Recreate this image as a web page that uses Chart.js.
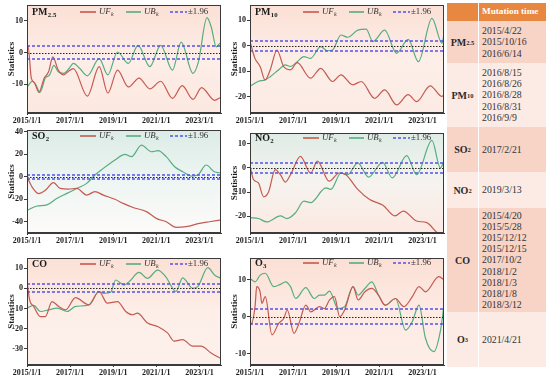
<!DOCTYPE html>
<html>
<head>
<meta charset="utf-8">
<script src="https://cdn.jsdelivr.net/npm/chart.js@4.4.1/dist/chart.umd.min.js"></script>
<style>
  body { margin: 0; background: #fff; width: 550px; height: 378px; position: relative; overflow: hidden;
         font-family: "Liberation Serif", "Times New Roman", serif; }
  canvas.panel { position: absolute; }
  .trow { position: absolute; left: 447px; width: 99px; display: flex; }
  .trow .c1 { width: 31px; display: flex; align-items: center; justify-content: center;
              font-weight: bold; font-size: 10px; color: #2a2a2a; border-right: 1px solid #fff; }
  .trow .c2 { flex: 1; display: flex; flex-direction: column; justify-content: center;
              padding-left: 3px; font-size: 9.8px; line-height: 11.2px; color: #333; }
  .trow sub { font-size: 6.5px; vertical-align: -2px; }
  .thead .c2 { color: #fff; font-weight: bold; font-size: 9.2px; }
</style>
</head>
<body>
<script>
// ---- data (years as decimals, statistic values) ----
const X_TICKS = [2015, 2017, 2019, 2021, 2023];

const PM25_UF_X = [2015.00, 2015.05, 2015.20, 2015.35, 2015.55, 2015.80, 2016.00, 2016.20, 2016.45, 2016.70, 2016.90, 2017.15, 2017.80, 2018.35, 2018.75, 2019.20, 2019.70, 2020.20, 2020.70, 2021.20, 2021.75, 2022.20, 2022.70, 2023.10, 2023.70, 2023.95];
const PM25_UF = [0.5, 2.0, -8, -9.5, -12.5, -8, -6, -1.3, -5.5, -7, -6, -5, -13.7, -4.4, -12.7, -5.5, -10.8, -8, -11.4, -9, -14.4, -10.4, -14.7, -11, -15, -14.2];
const PM25_UB_X = [2015.00, 2015.10, 2015.25, 2015.40, 2015.60, 2015.85, 2016.05, 2016.25, 2016.45, 2016.70, 2016.95, 2017.15, 2017.45, 2017.80, 2018.35, 2018.75, 2019.20, 2019.70, 2020.15, 2020.70, 2021.20, 2021.75, 2022.15, 2022.70, 2022.95, 2023.35, 2023.55, 2023.78, 2023.95];
const PM25_UB = [-11, -10, -9, -10, -12.5, -8, -7, -4, -6, -6.5, -5, -3.4, -5, -7.3, -1.9, -7, 0.2, -3.4, 2.3, -4.4, 2.3, -5.5, 3.3, -6.5, -3, 11, 8, 1.8, 3];

const PM10_UF_X = [2015.00, 2015.23, 2015.47, 2015.70, 2015.94, 2016.25, 2016.56, 2016.88, 2017.19, 2017.81, 2018.28, 2018.83, 2019.22, 2019.77, 2020.16, 2020.78, 2021.25, 2021.80, 2022.34, 2022.73, 2023.36, 2023.91, 2024.00];
const PM10_UF = [1.6, -5, -8.2, -13.5, -9.5, -1.7, -8.2, -9.5, -6.7, -12.8, -8.9, -14.1, -11.5, -15.4, -14.1, -20.7, -17.4, -23.3, -19.3, -22, -15.8, -20, -19];
const PM10_UB_X = [2015.00, 2015.39, 2015.70, 2015.94, 2016.33, 2016.64, 2016.88, 2017.19, 2017.50, 2017.81, 2018.28, 2018.59, 2018.83, 2019.22, 2019.53, 2020.00, 2020.39, 2020.70, 2021.25, 2021.80, 2022.34, 2022.81, 2023.44, 2023.91, 2024.00];
const PM10_UB = [-16, -14, -13.5, -12.2, -9.5, -7.6, -8.2, -6.3, -4.3, -5, -0.4, -2, -1.7, 4.2, 3.3, 6.1, 6.5, 1.6, 6.1, -3, 2.5, -6.3, 10.7, 0.9, 4.8];

const SO2_UF_X = [2015.00, 2015.23, 2015.54, 2015.85, 2016.23, 2016.54, 2016.92, 2017.31, 2017.77, 2018.15, 2018.54, 2019.08, 2019.46, 2019.92, 2020.54, 2021.00, 2021.46, 2021.92, 2022.38, 2023.00, 2023.46, 2023.95];
const SO2_UF = [0, -9, -15, -12, -5.3, -10.4, -11, -10.4, -16.3, -13.3, -16.3, -20, -23.7, -27.3, -31, -37, -40, -45, -44.4, -41.5, -40, -38.5];
const SO2_UB_X = [2015.00, 2015.46, 2015.92, 2016.38, 2016.85, 2017.31, 2017.77, 2018.15, 2018.54, 2019.08, 2019.54, 2019.85, 2020.31, 2020.77, 2021.08, 2021.46, 2021.85, 2022.23, 2022.62, 2022.92, 2023.31, 2023.69, 2023.95];
const SO2_UB = [-30, -26, -25, -19.3, -14.8, -10.4, -5.9, 1.5, 7.4, 14.8, 19.9, 17.8, 28.1, 22.2, 23.1, 17.8, 8.9, 4.4, 0.6, 1.5, 10.4, 4.4, 3.5];

const NO2_UF_X = [2015.00, 2015.16, 2015.39, 2015.63, 2015.86, 2016.17, 2016.41, 2016.64, 2016.88, 2017.34, 2017.81, 2018.13, 2018.67, 2019.14, 2019.45, 2020.00, 2020.55, 2021.17, 2021.72, 2022.11, 2022.73, 2023.20, 2023.83, 2024.00];
const NO2_UF = [0.7, -4.8, -6.2, -12, -10, -0.7, -2.8, -5.9, -2.8, 4.8, -2.1, 2.8, -5.5, -2.1, -2.8, -8.9, -13.1, -15.5, -19.9, -17.9, -22, -22.7, -27.5, -26.8];
const NO2_UB_X = [2015.00, 2015.39, 2015.78, 2016.41, 2016.72, 2017.11, 2017.50, 2017.81, 2018.52, 2018.75, 2019.22, 2019.53, 2020.00, 2020.50, 2021.15, 2021.60, 2022.27, 2022.73, 2023.44, 2023.83, 2024.00];
const NO2_UB = [-20.6, -21, -22.4, -19.9, -21, -18.6, -13.8, -14.4, -8.3, -8.9, -2.1, -2.8, 2.1, -3.8, 2.3, -4.1, 5.1, -2.8, 11.4, 0, 2.8];

const CO_UF_X = [2015.00, 2015.12, 2015.31, 2015.62, 2015.85, 2016.16, 2016.47, 2016.79, 2017.25, 2017.87, 2018.34, 2018.73, 2019.20, 2019.58, 2019.89, 2020.12, 2020.59, 2021.06, 2021.52, 2021.83, 2022.22, 2022.69, 2023.07, 2023.54, 2024.00];
const CO_UF = [3.3, -5.7, -9, -14, -14, -6.6, -9, -10.7, -4.6, -8.2, -1.6, -7.4, -6.6, -11.5, -13.1, -12.3, -17.2, -18.9, -22.1, -26.2, -25.4, -28.7, -28.7, -32, -34.9];
const CO_UB_X = [2015.00, 2015.31, 2015.62, 2016.01, 2016.40, 2016.86, 2017.25, 2017.87, 2018.34, 2018.57, 2018.88, 2019.11, 2019.50, 2019.74, 2020.20, 2020.59, 2021.06, 2021.44, 2021.91, 2022.22, 2022.69, 2022.92, 2023.39, 2023.70, 2024.00];
const CO_UB = [-9.8, -8.5, -11.5, -10.7, -9.8, -11.5, -9, -8.2, -1.6, -2.5, -2, 4.1, 1.6, 3.3, 7.9, 4.9, 9, 5.7, -1.6, 5.2, 0, 0.8, 10.2, 6.6, 4.9];

const O3_UF_X = [2015.00, 2015.05, 2015.24, 2015.31, 2015.47, 2015.55, 2015.71, 2016.02, 2016.33, 2016.57, 2016.73, 2017.04, 2017.27, 2017.59, 2017.82, 2018.22, 2018.45, 2018.69, 2018.92, 2019.16, 2019.39, 2019.78, 2020.02, 2020.33, 2020.65, 2020.96, 2021.27, 2021.75, 2022.14, 2022.53, 2022.84, 2023.14, 2023.76, 2024.00];
const O3_UF = [0, -2, 3.1, 8.1, 6.7, 3.6, 5.4, -4.9, -1.8, -0.4, 1.8, -4.5, -1.8, 3.1, 1.3, 2.7, 2.2, 4.5, 5.4, 0, 1.8, 8.1, 4.5, 6.7, 7.6, 5.8, 3.1, 4.9, 2.7, 5.4, 8.1, 6.7, 10.8, 9.9];
const O3_UB_X = [2015.00, 2015.24, 2015.47, 2015.71, 2016.10, 2016.41, 2016.65, 2016.88, 2017.12, 2017.59, 2017.98, 2018.22, 2018.45, 2018.69, 2019.08, 2019.39, 2019.78, 2020.02, 2020.33, 2020.65, 2020.96, 2021.27, 2021.75, 2022.22, 2022.53, 2022.84, 2023.14, 2023.53, 2023.84, 2024.00];
const O3_UB = [10.3, 9.4, 11.2, 11.7, 8.1, 8.7, 9.4, 8.1, 4.9, 7.8, 4.9, 5.8, 5.8, 6.9, 2.2, 2.7, 8.1, 5.8, 7.6, 9.4, 5.8, 3.1, 4.9, -3.6, -1.3, 3.1, -5.8, -9.4, -3.6, 3.1];

const THRESHOLD = 1.96;

// table text
const TABLE_HEAD = 'Mutation time';
const TABLE_NAMES = ['PM<sub>2.5</sub>', 'PM<sub>10</sub>', 'SO<sub>2</sub>', 'NO<sub>2</sub>', 'CO', 'O<sub>3</sub>'];
const TABLE_DATES = [
  ['2015/4/22', '2015/10/16', '2016/6/14'],
  ['2016/8/15', '2016/8/26', '2016/8/28', '2016/8/31', '2016/9/9'],
  ['2017/2/21'],
  ['2019/3/13'],
  ['2015/4/20', '2015/5/28', '2015/12/12', '2015/12/15', '2017/10/2', '2018/1/2', '2018/1/3', '2018/1/8', '2018/3/12'],
  ['2021/4/21']
];

// ---- styling ----
const UF_COLOR = '#c45a50';
const UB_COLOR = '#55ad80';
const REF_COLOR = '#5552e6';
const FONT = '"Liberation Serif", "Times New Roman", serif';

/* draw "main" with a subscript right after it */
function subText(ctx, x, y, main, sub, size, style) {
  ctx.font = style + ' ' + size + 'px ' + FONT;
  ctx.fillText(main, x, y);
  const w = ctx.measureText(main).width;
  if (!sub) return;
  ctx.font = style + ' ' + (size * 0.68) + 'px ' + FONT;
  ctx.fillText(sub, x + w + 0.3, y + size * 0.32);
}

function hLine(ctx, x0, x1, py) {
  ctx.beginPath(); ctx.moveTo(x0, py); ctx.lineTo(x1, py); ctx.stroke();
}

const panelDeco = {
  id: 'panelDeco',
  beforeDraw(chart, args, opts) {
    const { ctx, chartArea: a } = chart;
    const g = ctx.createLinearGradient(0, a.top, 0, a.bottom);
    opts.bg.forEach((c, i) => g.addColorStop(i / (opts.bg.length - 1), c));
    ctx.save();
    ctx.fillStyle = g;
    ctx.fillRect(a.left, a.top, a.width, a.height);
    ctx.restore();
  },
  afterDatasetsDraw(chart) {
    const { ctx, chartArea: a, scales: { y } } = chart;
    ctx.save();
    // zero line
    ctx.lineWidth = 1;
    ctx.strokeStyle = '#222';
    ctx.setLineDash([1.5, 1.5]);
    hLine(ctx, a.left, a.right, Math.round(y.getPixelForValue(0)) + 0.5);
    // +-1.96 lines
    ctx.lineWidth = 1.6;
    ctx.strokeStyle = REF_COLOR;
    ctx.setLineDash([3, 2]);
    hLine(ctx, a.left, a.right, Math.round(y.getPixelForValue(THRESHOLD)));
    hLine(ctx, a.left, a.right, Math.round(y.getPixelForValue(-THRESHOLD)));
    ctx.restore();
  },
  afterDraw(chart, args, opts) {
    const { ctx, chartArea: a } = chart;
    ctx.save();
    // frame
    ctx.strokeStyle = '#3a3a3a';
    ctx.lineWidth = 1;
    ctx.strokeRect(a.left + 0.5, a.top + 0.5, a.width - 1, a.height - 1);
    // panel label
    ctx.fillStyle = '#1a1a1a';
    ctx.textBaseline = 'middle';
    const ly = a.top + opts.ly;
    subText(ctx, a.left + 5, ly, opts.label, opts.sub, 10, 'bold');
    // legend
    const my = Math.round(ly);
    ctx.lineWidth = 1.6;
    ctx.strokeStyle = UF_COLOR;
    hLine(ctx, a.left + 53, a.left + 69, my);
    ctx.fillStyle = '#333';
    subText(ctx, a.left + 72, ly, 'UF', 'k', 8.8, 'italic');
    ctx.strokeStyle = UB_COLOR;
    hLine(ctx, a.left + 99, a.left + 114, my);
    subText(ctx, a.left + 117, ly, 'UB', 'k', 8.8, 'italic');
    ctx.strokeStyle = REF_COLOR;
    ctx.setLineDash([3, 2]);
    hLine(ctx, a.left + 143, a.left + 160, my);
    ctx.setLineDash([]);
    subText(ctx, a.left + 161, ly, '\u00b11.96', '', 8.8, 'normal');
    ctx.restore();
  }
};

function pts(xs, ys) {
  return xs.map((x, i) => ({ x: x, y: ys[i] }));
}

const PANELS = [
  { label: 'PM', sub: '2.5', ufx: PM25_UF_X, uf: PM25_UF, ubx: PM25_UB_X, ub: PM25_UB, yMin: -19, yMax: 15, yTicks: [-10, 0, 10],
    left: 0, top: -3, h: 128, padTop: 8, xh: 12, ly: 7, bg: ['#fbe0d5', '#fdeee8', '#fce8e0'] },
  { label: 'PM', sub: '10', ufx: PM10_UF_X, uf: PM10_UF, ubx: PM10_UB_X, ub: PM10_UB, yMin: -26.5, yMax: 16, yTicks: [-20, -10, 0, 10],
    left: 223, top: -3, h: 128, padTop: 8, xh: 12, ly: 7, bg: ['#fbe0d5', '#fdeee8', '#fcebe4'] },
  { label: 'SO', sub: '2', ufx: SO2_UF_X, uf: SO2_UF, ubx: SO2_UB_X, ub: SO2_UB, yMin: -50, yMax: 41.5, yTicks: [-40, -20, 0, 20, 40],
    left: 0, top: 122, h: 123, padTop: 8, xh: 12, ly: 6, bg: ['#dcece6', '#eef5f2', '#fdfbfa'] },
  { label: 'NO', sub: '2', ufx: NO2_UF_X, uf: NO2_UF, ubx: NO2_UB_X, ub: NO2_UB, yMin: -27, yMax: 14.5, yTicks: [-20, -10, 0, 10],
    left: 223, top: 122, h: 123, padTop: 11, xh: 12, ly: 5, bg: ['#dfece6', '#f6f3ef', '#fce8e1'] },
  { label: 'CO', sub: '', ufx: CO_UF_X, uf: CO_UF, ubx: CO_UB_X, ub: CO_UB, yMin: -38, yMax: 15, yTicks: [-30, -20, -10, 0, 10],
    left: 0, top: 245, h: 133, padTop: 13, xh: 13, ly: 6, bg: ['#fbe0d5', '#fdeee8', '#fdf0eb'] },
  { label: 'O', sub: '3', ufx: O3_UF_X, uf: O3_UF, ubx: O3_UB_X, ub: O3_UB, yMin: -13, yMax: 15.8, yTicks: [-10, 0, 10],
    left: 223, top: 245, h: 133, padTop: 13, xh: 13, ly: 5, bg: ['#fbdfd4', '#fdebe4', '#fdeee8'] }
];

PANELS.forEach(p => {
  const canvas = document.createElement('canvas');
  canvas.className = 'panel';
  canvas.width = 223;
  canvas.height = p.h;
  canvas.style.left = p.left + 'px';
  canvas.style.top = p.top + 'px';
  document.body.appendChild(canvas);

  new Chart(canvas.getContext('2d'), {
    type: 'line',
    data: {
      datasets: [
        { data: pts(p.ufx, p.uf), borderColor: UF_COLOR, borderWidth: 1.2, pointRadius: 0, cubicInterpolationMode: 'monotone' },
        { data: pts(p.ubx, p.ub), borderColor: UB_COLOR, borderWidth: 1.2, pointRadius: 0, cubicInterpolationMode: 'monotone' }
      ]
    },
    options: {
      responsive: false,
      animation: false,
      devicePixelRatio: 1,
      layout: { padding: { top: p.padTop, right: 2, left: 0, bottom: 0 } },
      plugins: {
        legend: { display: false },
        tooltip: { enabled: false },
        panelDeco: { bg: p.bg, label: p.label, sub: p.sub, ly: p.ly }
      },
      scales: {
        x: {
          type: 'linear', min: 2015, max: 2024,
          afterBuildTicks: s => { s.ticks = X_TICKS.map(v => ({ value: v })); },
          afterFit: s => { s.height = p.xh; },
          ticks: { callback: v => v + '/1/1', autoSkip: false, maxRotation: 0, padding: 1,
                   color: '#1a1a1a', font: { family: FONT, size: 8, weight: 'bold' } },
          grid: { drawOnChartArea: false, tickLength: 2, color: '#3a3a3a' },
          border: { color: '#3a3a3a' }
        },
        y: {
          min: p.yMin, max: p.yMax,
          afterBuildTicks: s => { s.ticks = p.yTicks.map(v => ({ value: v })); },
          afterFit: s => { s.width = 27; },
          ticks: { padding: 1, color: '#1a1a1a', font: { family: FONT, size: 8, weight: 'bold' } },
          grid: { drawOnChartArea: false, tickLength: 3, color: '#3a3a3a' },
          border: { color: '#3a3a3a' },
          title: { display: true, text: 'Statistics', color: '#1a1a1a', padding: { top: 6, bottom: 0 },
                   font: { family: FONT, size: 9, weight: 'bold' } }
        }
      }
    },
    plugins: [panelDeco]
  });
});

// ---- table ----
const ROW_TOPS = [21, 63, 127, 172, 208, 312];
const ROW_HEIGHTS = [42, 64, 45, 36, 104, 55];
const ROW_BG = ['#f7d4c6', '#fcebe4', '#f7d4c6', '#fcebe4', '#f7d4c6', '#fcebe4'];

const head = document.createElement('div');
head.className = 'trow thead';
head.style.top = '3px';
head.style.height = '18px';
head.style.background = '#e8873f';
head.innerHTML = '<div class="c1"></div><div class="c2">' + TABLE_HEAD + '</div>';
document.body.appendChild(head);

TABLE_NAMES.forEach((name, i) => {
  const row = document.createElement('div');
  row.className = 'trow';
  row.style.top = ROW_TOPS[i] + 'px';
  row.style.height = ROW_HEIGHTS[i] + 'px';
  row.style.background = ROW_BG[i];
  row.innerHTML = '<div class="c1">' + name + '</div><div class="c2">' +
    TABLE_DATES[i].map(d => '<div>' + d + '</div>').join('') + '</div>';
  document.body.appendChild(row);
});
</script>
</body>
</html>
